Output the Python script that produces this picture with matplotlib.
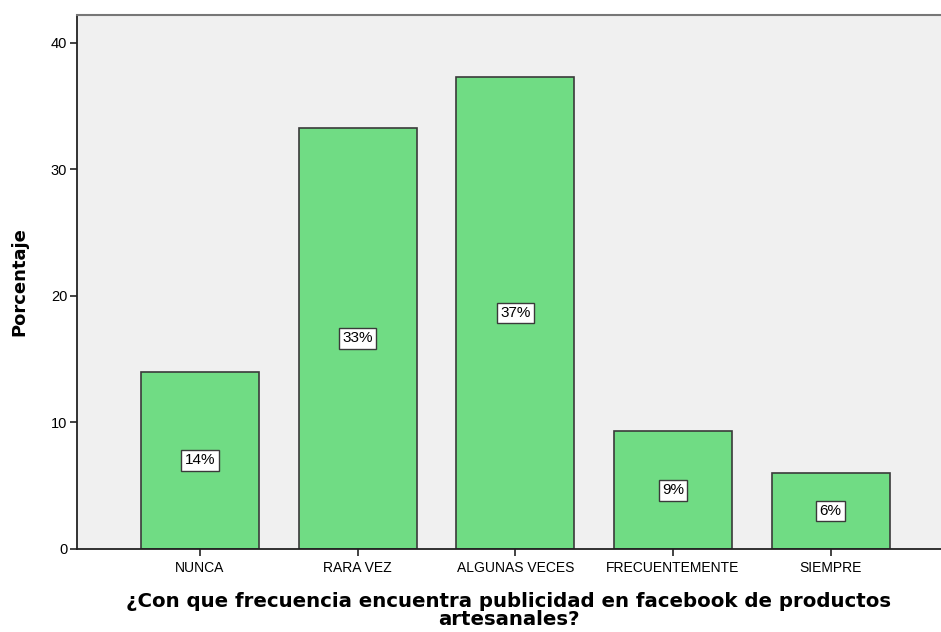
import matplotlib
matplotlib.use("Agg")
import matplotlib.pyplot as plt

# categorias y porcentajes (n = 150)
categorias = ["NUNCA", "RARA VEZ", "ALGUNAS VECES", "FRECUENTEMENTE", "SIEMPRE"]
porcentajes = [14.0, 33.3, 37.3, 9.3, 6.0]
etiquetas = ["14%", "33%", "37%", "9%", "6%"]

plt.rcParams['font.family'] = ['Liberation Sans', 'DejaVu Sans']

fig = plt.figure(figsize=(9.41, 6.32), dpi=100)
ax = fig.add_axes([77/941, 1 - 549/632, 1 - 77/941, (549 - 15)/632])
ax.set_facecolor("#F0F0F0")

x = list(range(len(categorias)))
ax.bar(x, porcentajes, width=0.75, color="#70DC84", edgecolor="#3A3A3A", linewidth=1.2, zorder=2)

for i in x:
    ax.text(i, porcentajes[i] / 2, etiquetas[i], ha="center", va="center", fontsize=11,
            bbox=dict(boxstyle="square,pad=0.22", facecolor="white", edgecolor="#3A3A3A", linewidth=1),
            zorder=3)

ax.set_xlim(-0.78, 4.70)
ax.set_ylim(0, 42.2)
ax.set_yticks([0, 10, 20, 30, 40])
ax.set_xticks(x)
ax.set_xticklabels(categorias, fontsize=10)
ax.tick_params(axis="y", labelsize=10.5, length=5, width=1.2, color="#222222", pad=2)
ax.tick_params(axis="x", length=5, width=1.2, color="#222222", pad=4)

for s in ["left", "bottom"]:
    ax.spines[s].set_color("#222222")
    ax.spines[s].set_linewidth(1.3)
ax.spines["top"].set_color("#777777")
ax.spines["top"].set_linewidth(1.5)
ax.spines["right"].set_visible(False)

ax.set_ylabel("Porcentaje", fontsize=13, fontweight="bold", labelpad=16, family="DejaVu Sans")
ax.set_xlabel("¿Con que frecuencia encuentra publicidad en facebook de productos\nartesanales?",
              fontsize=14.2, fontweight="bold", labelpad=12, linespacing=0.95, family="DejaVu Sans")

fig.savefig("out.png", dpi=100)
